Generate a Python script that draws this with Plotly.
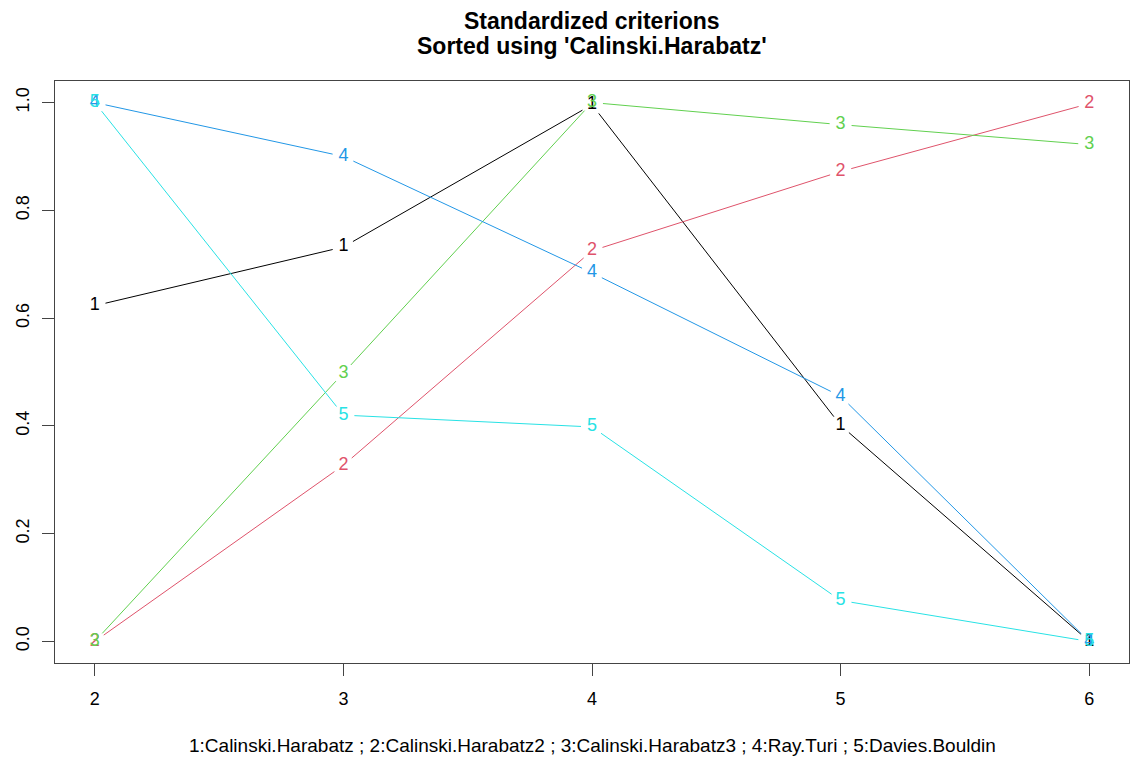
import plotly.graph_objects as go

# Number of clusters evaluated
clusters = [2, 3, 4, 5, 6]

# Standardized criterion values per number of clusters
calinski_harabatz = [0.623, 0.732, 0.996, 0.401, 0.0]
calinski_harabatz2 = [0.0, 0.327, 0.725, 0.872, 0.998]
calinski_harabatz3 = [0.0, 0.498, 1.0, 0.959, 0.922]
ray_turi = [1.0, 0.900, 0.684, 0.455, 0.0]
davies_bouldin = [1.0, 0.420, 0.398, 0.076, 0.0]

series_labels = ["1", "2", "3", "4", "5"]
series_values = [calinski_harabatz, calinski_harabatz2, calinski_harabatz3,
                 ray_turi, davies_bouldin]
series_colors = ["#000000", "#DF536B", "#61D04F", "#2297E6", "#28E2E5"]

title_lines = ["Standardized criterions", "Sorted using 'Calinski.Harabatz'"]
legend_text = ("1:Calinski.Harabatz ; 2:Calinski.Harabatz2 ; 3:Calinski.Harabatz3 ; "
               "4:Ray.Turi ; 5:Davies.Bouldin")

FONT = "Liberation Sans, Arial"
W, H = 1135, 760
M = dict(l=55, r=6, t=81, b=97)
x_range = [1.84, 6.16]
y_range = [-0.04, 1.04]
plot_w = W - M["l"] - M["r"]
plot_h = H - M["t"] - M["b"]
sx = plot_w / (x_range[1] - x_range[0])
sy = plot_h / (y_range[1] - y_range[0])
GAP = 11  # pixel gap around each point label, like type="b"


def gapped_segments(xs, ys):
    """Line segments between consecutive points, trimmed near each label."""
    lx, ly = [], []
    for i in range(len(xs) - 1):
        x0, y0, x1, y1 = xs[i], ys[i], xs[i + 1], ys[i + 1]
        dx = (x1 - x0) * sx
        dy = (y1 - y0) * sy
        d = (dx * dx + dy * dy) ** 0.5
        if d <= 2 * GAP:
            continue
        f = GAP / d
        lx += [x0 + (x1 - x0) * f, x1 - (x1 - x0) * f, None]
        ly += [y0 + (y1 - y0) * f, y1 - (y1 - y0) * f, None]
    return lx, ly


fig = go.Figure()
for lab, vals, col in zip(series_labels, series_values, series_colors):
    lx, ly = gapped_segments(clusters, vals)
    fig.add_trace(go.Scatter(x=lx, y=ly, mode="lines",
                             line=dict(color=col, width=1),
                             hoverinfo="skip", showlegend=False))
for lab, vals, col in zip(series_labels, series_values, series_colors):
    fig.add_trace(go.Scatter(x=clusters, y=vals, mode="text",
                             text=[lab] * len(clusters),
                             textposition="middle center",
                             textfont=dict(family=FONT, size=18, color=col),
                             showlegend=False))

axis_common = dict(showgrid=False, zeroline=False, showline=True, mirror=True,
                   linecolor="#444444", linewidth=1, ticks="outside", ticklen=12,
                   tickcolor="#444444", tickwidth=1,
                   tickfont=dict(family=FONT, size=18, color="#000000"))

annotations = [
    dict(text="<b>%s</b>" % title_lines[0], xref="paper", yref="paper",
         x=0.5, y=1 + (M["t"] - 21) / plot_h, xanchor="center", yanchor="middle",
         showarrow=False, font=dict(family=FONT, size=23, color="#000000")),
    dict(text="<b>%s</b>" % title_lines[1], xref="paper", yref="paper",
         x=0.5, y=1 + (M["t"] - 46) / plot_h, xanchor="center", yanchor="middle",
         showarrow=False, font=dict(family=FONT, size=23, color="#000000")),
    dict(text=legend_text, xref="paper", yref="paper",
         x=0.5, y=-(745 - (H - M["b"])) / plot_h, xanchor="center", yanchor="middle",
         showarrow=False, font=dict(family=FONT, size=19, color="#000000")),
]

fig.update_layout(
    width=W, height=H, margin=M,
    paper_bgcolor="white", plot_bgcolor="white",
    xaxis=dict(range=x_range, tickvals=clusters, ticktext=[str(c) for c in clusters],
               ticklabelstandoff=7, **axis_common),
    yaxis=dict(range=y_range, tickvals=[0, 0.2, 0.4, 0.6, 0.8, 1.0],
               ticktext=["0.0", "0.2", "0.4", "0.6", "0.8", "1.0"], tickangle=-90,
               ticklabelstandoff=6, **axis_common),
    annotations=annotations,
)

fig.write_html("out.html")
